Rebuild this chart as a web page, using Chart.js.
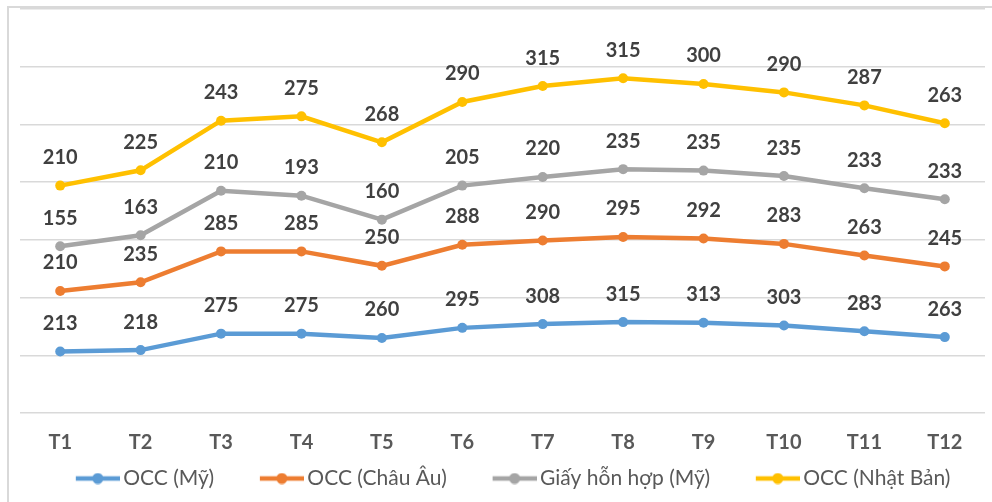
<!DOCTYPE html>
<html>
<head>
<meta charset="utf-8">
<script src="https://cdn.jsdelivr.net/npm/chart.js@4.4.1/dist/chart.umd.min.js"></script>
<style>
  html, body { margin: 0; padding: 0; background: #fff; overflow: hidden; }
  #wrap { position: relative; width: 992px; height: 502px; }
  #frame { position: absolute; left: 7px; top: 6px; width: 1200px; height: 700px; border: 2px solid #d9d9d9; }
  #chart { position: absolute; left: 0; top: 0; }
</style>
</head>
<body>
<div id="wrap">
  <div id="frame"></div>
  <canvas id="chart" width="992" height="502"></canvas>
</div>
<script>
// Months and series (values stacked on top of each other)
const months = ["T1", "T2", "T3", "T4", "T5", "T6", "T7", "T8", "T9", "T10", "T11", "T12"];
const occMy = [213, 218, 275, 275, 260, 295, 308, 315, 313, 303, 283, 263];
const occChauAu = [210, 235, 285, 285, 250, 288, 290, 295, 292, 283, 263, 245];
const giayHonHop = [155, 163, 210, 193, 160, 205, 220, 235, 235, 235, 233, 233];
const occNhatBan = [210, 225, 243, 275, 268, 290, 315, 315, 300, 290, 287, 263];

const seriesNames = ["OCC (Mỹ)", "OCC (Châu Âu)", "Giấy hỗn hợp (Mỹ)", "OCC (Nhật Bản)"];
const seriesData = [occMy, occChauAu, giayHonHop, occNhatBan];
const colors = ["#5B9BD5", "#ED7D31", "#A5A5A5", "#FFC000"];

const fontFamily = "Lato, 'Open Sans', sans-serif";

// legend marker: short line with a dot, drawn at the right end of a
// wider transparent image so the items get spaced out
function legendMarker(color) {
  const c = document.createElement("canvas");
  c.width = 83;
  c.height = 12;
  const g = c.getContext("2d");
  g.strokeStyle = color;
  g.lineWidth = 4.5;
  g.beginPath();
  g.moveTo(39, 6);
  g.lineTo(83, 6);
  g.stroke();
  g.fillStyle = color;
  g.beginPath();
  g.arc(61, 6, 5.5, 0, Math.PI * 2);
  g.fill();
  return c;
}

// draw the value above each point
const valueLabels = {
  id: "valueLabels",
  afterDatasetsDraw(chart) {
    const ctx = chart.ctx;
    ctx.save();
    ctx.font = "bold 20px " + fontFamily;
    ctx.fillStyle = "#404040";
    ctx.textAlign = "center";
    ctx.textBaseline = "middle";
    chart.data.datasets.forEach((ds, i) => {
      const meta = chart.getDatasetMeta(i);
      meta.data.forEach((pt, j) => {
        ctx.fillText(String(ds.data[j]), pt.x, pt.y - 28);
      });
    });
    ctx.restore();
  },
};

const datasets = seriesNames.map((name, i) => ({
  label: name,
  data: seriesData[i],
  borderColor: colors[i],
  backgroundColor: colors[i],
  borderWidth: 4.5,
  pointRadius: 5,
  pointHoverRadius: 5,
  pointBackgroundColor: colors[i],
  pointBorderWidth: 0,
  pointStyle: "circle",
  legendMarker: legendMarker(colors[i]),
  tension: 0,
  fill: false,
}));

new Chart(document.getElementById("chart"), {
  type: "line",
  data: { labels: months, datasets: datasets },
  options: {
    responsive: false,
    animation: false,
    layout: { padding: { left: 20, right: 7, top: 9, bottom: 3 } },
    scales: {
      x: {
        offset: true,
        grid: { display: false },
        border: { display: false },
        ticks: {
          color: "#595959",
          font: { family: fontFamily, size: 20, weight: "bold" },
          padding: 10,
        },
      },
      y: {
        stacked: true,
        min: 0,
        max: 1400,
        ticks: { display: false, stepSize: 200 },
        border: { display: false },
        grid: { color: "#d9d9d9", lineWidth: 1.5, drawTicks: false },
        afterFit: (s) => { s.width = 0; },
      },
    },
    plugins: {
      tooltip: { enabled: false },
      legend: {
        position: "bottom",
        labels: {
          color: "#595959",
          font: { family: fontFamily, size: 21 },
          usePointStyle: true,
          pointStyleWidth: 69,
          padding: 3,
          generateLabels(chart) {
            // trailing spaces move some of the item gap behind the text
            return chart.data.datasets.map((ds, i) => ({
              text: ds.label + "  ",
              fillStyle: ds.borderColor,
              strokeStyle: ds.borderColor,
              fontColor: "#595959",
              lineWidth: 0,
              pointStyle: ds.legendMarker,
              datasetIndex: i,
              hidden: false,
            }));
          },
        },
      },
    },
  },
  plugins: [valueLabels],
});
</script>
</body>
</html>
